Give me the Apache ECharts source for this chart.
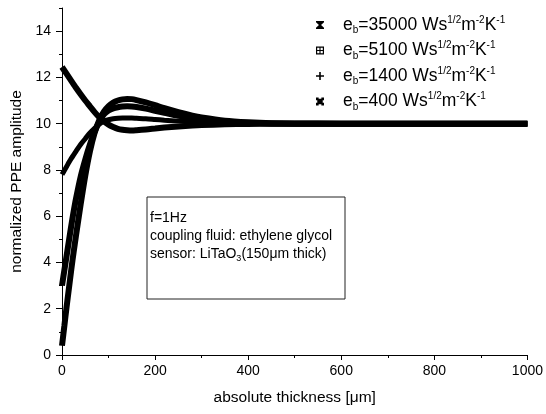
<!DOCTYPE html>
<html><head><meta charset="utf-8">
<script src="https://cdn.jsdelivr.net/npm/echarts@6/dist/echarts.min.js"></script>
<style>html,body{margin:0;padding:0;background:#fff}#c{width:546px;height:414px}</style>
</head><body><div id="c"></div>
<script>
const thickness = [0,5,10,15,20,25,30,40,50,60,70,80,90,100,110,120,130,140,150,160,180,200,220,250,280,300,350,400,450,500,600,700,800,900,1000];
const eb35000 = [12.45,12.3,12.15,12.0,11.85,11.7,11.55,11.27,11.0,10.75,10.5,10.28,10.1,9.96,9.86,9.78,9.74,9.72,9.71,9.72,9.75,9.79,9.83,9.88,9.92,9.94,9.97,9.99,10,10,10,10,10,10,10];
const eb5100 = [7.8,7.98,8.15,8.33,8.5,8.65,8.8,9.1,9.35,9.6,9.8,9.98,10.1,10.17,10.21,10.23,10.24,10.24,10.24,10.23,10.21,10.18,10.15,10.11,10.07,10.05,10.03,10.01,10,10,10,10,10,10,10];
const eb1400 = [3.0,3.65,4.3,4.95,5.6,6.2,6.75,7.7,8.45,9.1,9.65,10.08,10.4,10.57,10.66,10.71,10.74,10.75,10.74,10.72,10.65,10.56,10.47,10.34,10.24,10.18,10.08,10.03,10.01,10,10,10,10,10,10];
const eb400 = [0.4,1.25,2.1,2.9,3.7,4.45,5.15,6.5,7.75,8.8,9.6,10.15,10.52,10.76,10.91,11.0,11.05,11.07,11.06,11.02,10.92,10.8,10.67,10.5,10.35,10.27,10.13,10.06,10.02,10.01,10,10,10,10,10];
const seriesNames = ['35000','5100','1400','400'];
const seriesValues = [eb35000, eb5100, eb1400, eb400];
const yMajorTicks = [0,2,4,6,8,10,12,14];

const FONT = "'Liberation Sans', Arial, sans-serif";
const icons = [
  'path://M0,0L10,0L10,1.6L6.3,5L10,8.4L10,10L0,10L0,8.4L3.7,5L0,1.6Z',
  'path://M0,0L10,0L10,10L0,10Z M1.5,1.5L1.5,4.3L4.3,4.3L4.3,1.5Z M5.7,1.5L5.7,4.3L8.5,4.3L8.5,1.5Z M1.5,5.7L1.5,8.5L4.3,8.5L4.3,5.7Z M5.7,5.7L5.7,8.5L8.5,8.5L8.5,5.7Z',
  'path://M4,0L6,0L6,4L10,4L10,6L6,6L6,10L4,10L4,6L0,6L0,4L4,4Z',
  'path://M0,0L3.3,0L3.3,3.3L0,3.3Z M6.7,0L10,0L10,3.3L6.7,3.3Z M3.3,3.3L6.7,3.3L6.7,6.7L3.3,6.7Z M0,6.7L3.3,6.7L3.3,10L0,10Z M6.7,6.7L10,6.7L10,10L6.7,10Z M1.6,1.6L8.4,1.6L8.4,8.4L1.6,8.4Z'
];

const chart = echarts.init(document.getElementById('c'));
chart.setOption({
  animation: false,
  textStyle: {fontFamily: FONT, color: '#000'},
  grid: {left: 62, right: 15, top: 8, bottom: 59},
  legend: {
    orient: 'vertical', left: 311, top: 10, itemWidth: 8, itemHeight: 8, itemGap: 5,
    data: seriesNames.map((n, i) => ({name: n, icon: icons[i]})),
    formatter: n => '{n|e}{sub|b}{n|=' + n + ' Ws}{sup|1/2}{n|m}{sup|-2}{n|K}{sup|-1}',
    textStyle: {
      padding: [0, 0, 0, 14],
      rich: {
        n: {fontSize: 17.5, fontFamily: FONT, color: '#000', lineHeight: 20},
        sub: {fontSize: 10, fontFamily: FONT, color: '#000', padding: [11, 0, 0, 0]},
        sup: {fontSize: 10, fontFamily: FONT, color: '#000', padding: [0, 0, 10, 0]}
      }
    }
  },
  xAxis: {
    type: 'value', min: 0, max: 1000, interval: 200,
    name: 'absolute thickness [\u03bcm]', nameLocation: 'middle', nameGap: 35,
    nameTextStyle: {fontSize: 15.5, fontFamily: FONT, color: '#000'},
    axisLine: {lineStyle: {color: '#000', width: 1}},
    axisTick: {length: 5, lineStyle: {color: '#000'}},
    minorTick: {show: true, splitNumber: 2, length: 3, lineStyle: {color: '#000'}},
    axisLabel: {fontSize: 14, color: '#000', margin: 9, fontFamily: FONT, formatter: v => String(v)},
    splitLine: {show: false}
  },
  yAxis: [{
    type: 'value', min: 0, max: 15, interval: 1,
    name: 'normalized PPE amplitude', nameLocation: 'middle', nameGap: 35,
    nameTextStyle: {fontSize: 15.5, fontFamily: FONT, color: '#000'},
    axisLine: {show: true, lineStyle: {color: '#000', width: 1}},
    axisTick: {length: 3, lineStyle: {color: '#000'}},
    axisLabel: {fontSize: 14, color: '#000', margin: 11, fontFamily: FONT,
      customValues: yMajorTicks,
      formatter: v => (v % 2 === 0 && v < 15) ? String(v) : ''},
    splitLine: {show: false}
  }, {
    type: 'value', min: 0, max: 15, interval: 1, position: 'left',
    axisLine: {show: false},
    axisTick: {show: true, length: 6, customValues: yMajorTicks, lineStyle: {color: '#000'}},
    axisLabel: {show: false},
    splitLine: {show: false}
  }],
  graphic: [{
    type: 'rect', shape: {x: 147, y: 197, width: 198, height: 102},
    style: {fill: 'none', stroke: '#222', lineWidth: 1}, z: 10
  }, {
    type: 'text', x: 150, y: 209, z: 11,
    style: {
      text: '{t|f=1Hz}\n{t|coupling fluid: ethylene glycol}\n{t|sensor: LiTaO}{s|3}{t|(150\u03bcm thick)}',
      rich: {
        t: {fontSize: 14, fontFamily: FONT, fill: '#000', lineHeight: 18},
        s: {fontSize: 9, fontFamily: FONT, fill: '#000', lineHeight: 18, padding: [9, 0, 0, 0]}
      }
    }
  }],
  series: seriesNames.map((n, i) => ({
    name: n, type: 'line', yAxisIndex: 0, smooth: 0.3, symbol: 'none',
    color: '#000',
    lineStyle: {color: '#000', width: i === 1 ? 5 : 6},
    data: thickness.map((x, k) => [x, seriesValues[i][k]])
  }))
});
</script></body></html>
